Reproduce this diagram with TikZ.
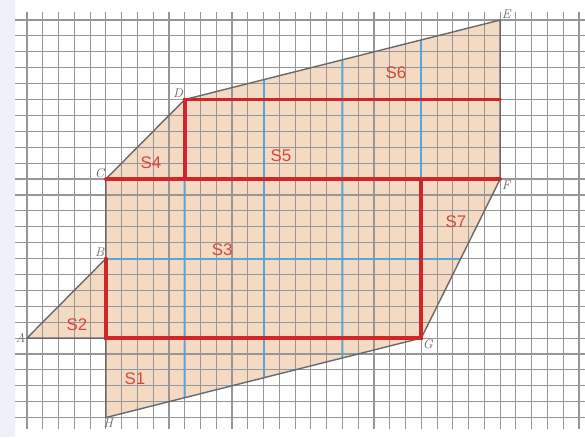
\documentclass[tikz,border=0pt]{standalone}
\usepackage{fontspec}
\usepackage{xcolor}
\usetikzlibrary{calc}
\newfontfamily\labelfont{Liberation Sans}
\definecolor{gridgray}{RGB}{150,150,150}
\definecolor{edgegray}{RGB}{105,105,105}
\definecolor{areafill}{RGB}{244,218,194}
\definecolor{cutred}{RGB}{208,38,42}
\definecolor{textred}{RGB}{212,72,60}
\definecolor{cutblue}{RGB}{88,165,212}
\definecolor{stripblue}{RGB}{238,241,250}

\begin{document}
\begin{tikzpicture}[x=0.39425cm, y=0.3975cm,
    gridline/.style={gridgray, line width=0.8pt},
    edge/.style={edgegray, line width=1pt, line join=round},
    redline/.style={cutred, line width=2.6pt, line cap=round},
    blueline/.style={cutblue, line width=1.4pt},
    area/.style={textred, font=\labelfont\fontsize{12}{14}\selectfont},
    pointlabel/.style={edgegray, font=\fontsize{9}{10}\selectfont\itshape, inner sep=1pt}]

    % Paper
    \useasboundingbox (-1.712,-6.226) rectangle (35.38,21.26);
    \fill[white] (-1.712,-6.226) rectangle (35.38,21.26);
    \fill[stripblue] (-1.712,-6.226) rectangle (-0.76,21.26);

    % Points of the figure
    \coordinate (A) at (0,0);
    \coordinate (B) at (5,5);
    \coordinate (C) at (5,10);
    \coordinate (D) at (10,15);
    \coordinate (E) at (30,20);
    \coordinate (F) at (30,10);
    \coordinate (G) at (25,0);
    \coordinate (H) at (5,-5);
    \coordinate (I) at (5,0);   % foot under B
    \coordinate (K) at (25,10); % above G
    \coordinate (L) at (10,10); % under D
    \coordinate (M) at (30,15); % level of D on EF

    % Shaded figure
    \fill[areafill] (A) -- (B) -- (C) -- (D) -- (E) -- (F) -- (G) -- (H) -- (I) -- cycle;

    % Squared paper
    \foreach \i in {0,...,35}
        \draw[gridline] (\i,-5.72) -- (\i,20.5);
    \foreach \j in {-5,...,20}
        \draw[gridline] (-0.76,\j) -- (35.38,\j);

    % Blue helper lines
    \draw[blueline] (L) -- ($(H)!0.25!(G)$);
    \draw[blueline] ($(D)!0.25!(E)$) -- ($(H)!0.5!(G)$);
    \draw[blueline] ($(D)!0.5!(E)$) -- ($(H)!0.75!(G)$);
    \draw[blueline] ($(D)!0.75!(E)$) -- (K);
    \draw[blueline] (B) -- ($(G)!0.5!(F)$);

    % Outline
    \draw[edge] (A) -- (B) -- (C) -- (D) -- (E) -- (F) -- (G) -- (H) -- (I) -- cycle;

    % Red cuts
    \draw[redline] (B) -- (I) -- (G) -- (K);
    \draw[redline] (C) -- (F);
    \draw[redline] (L) -- (D) -- (M);

    % Point names
    \node[pointlabel, left] at (A) {A};
    \node[pointlabel, above left] at (B) {B};
    \node[pointlabel, above left] at (C) {C};
    \node[pointlabel, above left] at (D) {D};
    \node[pointlabel, above right] at (E) {E};
    \node[pointlabel, below right] at (F) {F};
    \node[pointlabel, below right] at (G) {G};
    \node[pointlabel, below right, xshift=-3pt] at (H) {H};

    % Parts
    \node[area] (s1) at (6.85,-2.58) {S1};
    \node[area] (s2) at (3.17,0.82) {S2};
    \node[area] (s3) at (12.37,5.53) {S3};
    \node[area] (s4) at (7.86,11.0) {S4};
    \node[area] (s5) at (16.1,11.45) {S5};
    \node[area] (s6) at (23.4,16.7) {S6};
    \node[area] (s7) at (27.2,7.3) {S7};
\end{tikzpicture}
\end{document}
